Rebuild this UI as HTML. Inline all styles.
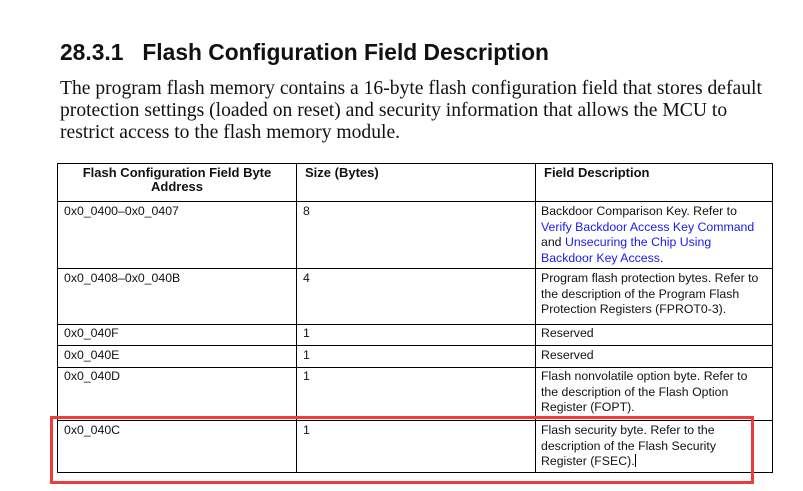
<!DOCTYPE html>
<html><head><style>
body{margin:0;width:803px;height:491px;background:#fff;position:relative;overflow:hidden;font-family:"Liberation Sans",sans-serif}
.a{position:absolute}
.h{font-size:22.8px;font-weight:bold;left:60px;top:39px;color:#111;white-space:nowrap}
.p{font-family:"Liberation Serif",serif;font-size:19.6px;left:60px;top:78px;line-height:22px;color:#111;white-space:nowrap}
.hl{background:#000}
.t{font-size:12.3px;line-height:15.6px;color:#111;white-space:nowrap}
.b{font-weight:bold;font-size:13px}
.l{color:#1a1aee}
</style></head><body>
<div class="a h">28.3.1&nbsp;&nbsp;&nbsp;Flash Configuration Field Description</div>
<div class="a p">The program flash memory contains a 16-byte flash configuration field that stores default<br>protection settings (loaded on reset) and security information that allows the MCU to<br>restrict access to the flash memory module.</div>
<div class="a hl" style="left:57px;top:163px;width:716px;height:1px"></div>
<div class="a hl" style="left:57px;top:201px;width:716px;height:1px"></div>
<div class="a hl" style="left:57px;top:268px;width:716px;height:1px"></div>
<div class="a hl" style="left:57px;top:324px;width:716px;height:1px"></div>
<div class="a hl" style="left:57px;top:345px;width:716px;height:1px"></div>
<div class="a hl" style="left:57px;top:367px;width:716px;height:1px"></div>
<div class="a hl" style="left:57px;top:420px;width:716px;height:1px"></div>
<div class="a hl" style="left:57px;top:472px;width:716px;height:1px"></div>
<div class="a hl" style="left:57px;top:163px;width:1px;height:310px"></div>
<div class="a hl" style="left:296px;top:163px;width:1px;height:310px"></div>
<div class="a hl" style="left:535px;top:163px;width:1px;height:310px"></div>
<div class="a hl" style="left:772px;top:163px;width:1px;height:310px"></div>
<div class="a t b" style="left:60px;top:166px;width:234px;text-align:center;line-height:14px;white-space:normal">Flash Configuration Field Byte Address</div>
<div class="a t b" style="left:305px;top:166px;line-height:14px">Size (Bytes)</div>
<div class="a t b" style="left:544px;top:166px;line-height:14px">Field Description</div>
<div class="a t" style="left:64px;top:204px">0x0_0400–0x0_0407</div>
<div class="a t" style="left:303px;top:204px">8</div>
<div class="a t" style="left:541px;top:204px">Backdoor Comparison Key. Refer to<br><span class="l">Verify Backdoor Access Key Command</span><br>and <span class="l">Unsecuring the Chip Using</span><br><span class="l">Backdoor Key Access</span>.</div>
<div class="a t" style="left:64px;top:271px">0x0_0408–0x0_040B</div>
<div class="a t" style="left:303px;top:271px">4</div>
<div class="a t" style="left:541px;top:271px">Program flash protection bytes. Refer to<br>the description of the Program Flash<br>Protection Registers (FPROT0-3).</div>
<div class="a t" style="left:64px;top:326px">0x0_040F</div>
<div class="a t" style="left:303px;top:326px">1</div>
<div class="a t" style="left:541px;top:326px">Reserved</div>
<div class="a t" style="left:64px;top:348px">0x0_040E</div>
<div class="a t" style="left:303px;top:348px">1</div>
<div class="a t" style="left:541px;top:348px">Reserved</div>
<div class="a t" style="left:64px;top:369px">0x0_040D</div>
<div class="a t" style="left:303px;top:369px">1</div>
<div class="a t" style="left:541px;top:369px">Flash nonvolatile option byte. Refer to<br>the description of the Flash Option<br>Register (FOPT).</div>
<div class="a t" style="left:64px;top:423px">0x0_040C</div>
<div class="a t" style="left:303px;top:423px">1</div>
<div class="a t" style="left:541px;top:423px">Flash security byte. Refer to the<br>description of the Flash Security<br>Register (FSEC).<span style="display:inline-block;width:1px;height:13px;background:#000;vertical-align:-2px"></span></div>
<div class="a" style="left:50px;top:416px;width:698px;height:62px;border:3px solid #ee3b3b"></div>
</body></html>
